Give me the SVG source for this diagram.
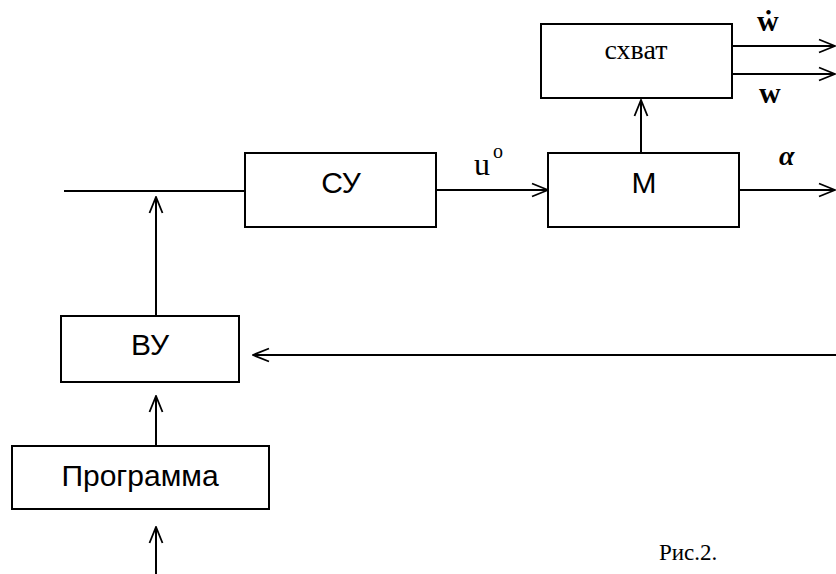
<svg xmlns="http://www.w3.org/2000/svg" width="836" height="574" viewBox="0 0 836 574">
<defs>
<marker id="ah" viewBox="0 0 18 16" refX="17" refY="8" markerWidth="18" markerHeight="16" markerUnits="userSpaceOnUse" orient="auto">
<path d="M1,1.5 L17,8 L1,14.5" fill="none" stroke="#000" stroke-width="1.8"/>
</marker>
<style>
.box{fill:#fff;stroke:#000;stroke-width:2}
.ln{fill:none;stroke:#000;stroke-width:2}
.sans{font-family:"Liberation Sans",Arial,sans-serif;font-size:30px;text-anchor:middle}
.serif{font-family:"Liberation Serif","Times New Roman",serif}
</style>
</defs>
<rect width="836" height="574" fill="#fff"/>
<g id="connectors">
<line class="ln" x1="64" y1="191" x2="246" y2="191"/>
<line class="ln" x1="156" y1="316" x2="156" y2="197" marker-end="url(#ah)"/>
<line class="ln" x1="436" y1="190" x2="548" y2="190" marker-end="url(#ah)"/>
<line class="ln" x1="739" y1="190" x2="835" y2="190" marker-end="url(#ah)"/>
<line class="ln" x1="641" y1="153" x2="641" y2="100" marker-end="url(#ah)"/>
<line class="ln" x1="732" y1="46" x2="835" y2="46" marker-end="url(#ah)"/>
<line class="ln" x1="732" y1="74" x2="835" y2="74" marker-end="url(#ah)"/>
<line class="ln" x1="836" y1="355" x2="253" y2="355" marker-end="url(#ah)"/>
<line class="ln" x1="156" y1="446" x2="156" y2="396" marker-end="url(#ah)"/>
<line class="ln" x1="156" y1="574" x2="156" y2="527" marker-end="url(#ah)"/>
</g>
<g id="SU">
<rect class="box" x="245" y="153" width="191" height="74"/>
<text class="sans" x="341" y="193">СУ</text>
</g>
<g id="M">
<rect class="box" x="548" y="153" width="191" height="74"/>
<text class="sans" x="644" y="193">М</text>
</g>
<g id="shvat">
<rect class="box" x="541" y="24" width="191" height="74"/>
<text class="serif" x="636" y="59" font-size="28" text-anchor="middle">схват</text>
</g>
<g id="VU">
<rect class="box" x="61" y="316" width="178" height="66"/>
<text class="sans" x="150" y="355">ВУ</text>
</g>
<g id="programma">
<rect class="box" x="12" y="446" width="257" height="63"/>
<text class="sans" x="140" y="486">Программа</text>
</g>
<g id="labels">
<text class="serif" x="474" y="175" font-size="32">u</text>
<text class="serif" x="493" y="158" font-size="20">o</text>
<text class="serif" x="779" y="165" font-size="28" font-weight="bold" font-style="italic">α</text>
<text class="serif" x="757" y="31" font-size="30" font-weight="bold">ẇ</text>
<text class="serif" x="759" y="103" font-size="30" font-weight="bold">w</text>
<text class="serif" x="659" y="560" font-size="23">Рис.2.</text>
</g>
</svg>
